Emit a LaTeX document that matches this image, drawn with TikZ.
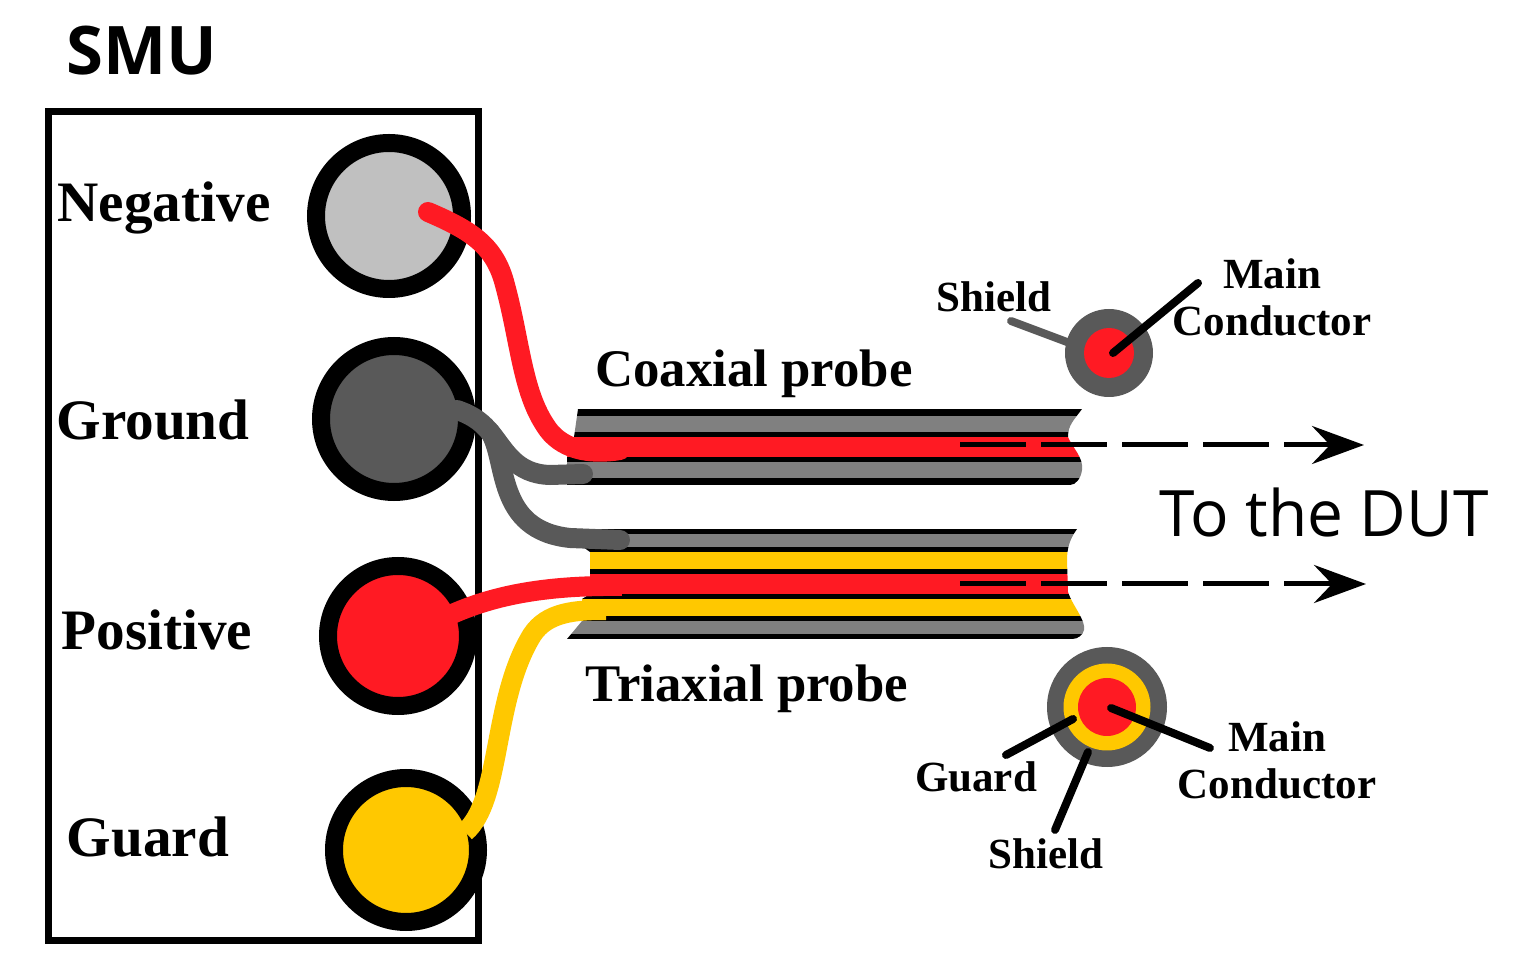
\documentclass[tikz,border=0pt]{standalone}
\usepackage{fontspec}
\usepackage{tikz}
\usetikzlibrary{arrows.meta, positioning}
\setmainfont{Liberation Serif}
\newfontfamily\labelsans{Open Sans}
\definecolor{wirered}{HTML}{FF1A23}
\definecolor{wiregray}{HTML}{595959}
\definecolor{wireyellow}{HTML}{FFC800}
\definecolor{stripegray}{HTML}{808080}
\definecolor{padgray}{HTML}{C0C0C0}
\tikzstyle{pad} = [circle, draw=black, line width=9pt, inner sep=0pt]
\tikzstyle{padlabel} = [font=\bfseries\fontsize{28.6}{30}\selectfont, inner sep=0pt]
\tikzstyle{probelabel} = [font=\bfseries\fontsize{26.4}{28}\selectfont, inner sep=0pt]
\tikzstyle{partlabel} = [font=\bfseries\fontsize{21.5}{23.5}\selectfont, inner sep=0pt, align=center]
\tikzstyle{disc} = [circle, inner sep=0pt]
\tikzstyle{wire} = [line width=10pt, line cap=round]
\tikzstyle{leader} = [line width=4pt, line cap=round]
\tikzstyle{dutarrow} = [line width=2.5pt, dash pattern=on 33pt off 7.5pt, -{Stealth[length=26pt, width=19pt, inset=9pt]}]

\begin{document}
\begin{tikzpicture}[x=0.5pt, y=-0.5pt]
  \useasboundingbox (0,0) rectangle (1517,978);

  % SMU box
  \node[draw=black, line width=3.5pt, minimum width=215pt, minimum height=414pt, inner sep=0pt] (smu) at (263.5,526) {};
  \node[inner sep=0pt, font=\labelsans\bfseries\fontsize{33.5}{35}\selectfont] (smutitle) at (142,51) {SMU};

  % Terminals
  \node[pad, fill=padgray, minimum size=73pt] (neg) at (389,216) {};
  \node[pad, fill=wiregray, minimum size=73pt] (gnd) at (394,419) {};
  \node[pad, fill=wirered, minimum size=70pt] (pos) at (398,636) {};
  \node[pad, fill=wireyellow, minimum size=72pt] (grd) at (406,850) {};

  \node[padlabel] (neglabel) at (164,208) {Negative};
  \node[padlabel] (gndlabel) at (153,420) {Ground};
  \node[padlabel] (poslabel) at (157,630) {Positive};
  \node[padlabel] (grdlabel) at (148,837) {Guard};

  % Coaxial probe
  \begin{scope}
    \clip (578,409) -- (1082,409) .. controls (1074,420) and (1068,425) .. (1068,437)
      .. controls (1072,447) and (1084,458) .. (1082,470) .. controls (1081,478) and (1076,485) .. (1070,485)
      -- (567,485) -- (567,457) -- (574,437) -- cycle;
    \foreach \ya/\yb/\col in {409/416/black, 416/432/stripegray, 432/437/black, 437/457/wirered,
                              457/462/black, 462/478/stripegray, 478/485/black}
      \fill[\col] (560,\ya) rectangle (1090,\yb);
  \end{scope}

  % Triaxial probe
  \begin{scope}
    \clip (583,529) -- (1077,529) .. controls (1069,540) and (1067,550) .. (1067,560) -- (1068,592)
      .. controls (1072,605) and (1086,620) .. (1084,630) .. controls (1083,635) and (1078,639) .. (1072,639)
      -- (567,639) -- (582,621) -- (582,599) -- (590,594) -- (590,552) -- (583,547) -- cycle;
    \foreach \ya/\yb/\col in {529/534/black, 534/547/stripegray, 547/552/black, 552/569/wireyellow,
                              569/574/black, 574/594/wirered, 594/599/black, 599/616/wireyellow,
                              616/621/black, 621/634/stripegray, 634/639/black}
      \fill[\col] (560,\ya) rectangle (1090,\yb);
  \end{scope}

  \node[probelabel] (coaxlabel) at (754,374) {Coaxial probe};
  \node[probelabel] (triaxlabel) at (747,689) {Triaxial probe};

  % Wire ends
  \coordinate (negtip) at (428,212);
  \coordinate (coaxred) at (620,450);
  \coordinate (gndtip) at (457,410);
  \coordinate (gndsplit) at (490,432);
  \coordinate (coaxgray) at (583,474);
  \coordinate (triaxgray) at (620,540);
  \coordinate (postip) at (450,615);
  \coordinate (triaxred) at (622,586);
  \coordinate (grdtip) at (465,832);
  \coordinate (triaxyellow) at (606,610);

  % Wires
  \draw[wire, wiregray] (gndtip) .. controls (475,416) and (483,424) .. (gndsplit)
    .. controls (505,450) and (515,474) .. (550,475) -- (coaxgray);
  \draw[wire, wiregray] (gndsplit) .. controls (508,460) and (495,530) .. (570,538) -- (triaxgray);
  \draw[wire, wirered, line cap=butt] (postip) .. controls (490,597) and (540,585) .. (triaxred);
  \draw[wire, wireyellow, line cap=butt] (grdtip) .. controls (502,800) and (492,700) .. (532,635)
    .. controls (547,612) and (575,610) .. (triaxyellow);
  \draw[wire, wirered] (negtip) .. controls (470,230) and (495,245) .. (505,285)
    .. controls (520,340) and (522,390) .. (545,425) .. controls (560,450) and (590,455) .. (coaxred);

  % To the DUT
  \coordinate (coaxstart) at (960,445);
  \coordinate (coaxend) at (1364,445);
  \coordinate (triaxstart) at (960,584);
  \coordinate (triaxend) at (1366,584);
  \draw[dutarrow] (coaxstart) -- (coaxend);
  \draw[dutarrow] (triaxstart) -- (triaxend);
  \node[inner sep=0pt, font=\labelsans\fontsize{32}{34}\selectfont] (dutlabel) at (1324,513) {To the DUT};

  % Coaxial section
  \node[disc, fill=wiregray, minimum size=44pt] (coaxouter) at (1109,353) {};
  \node[disc, fill=wirered, minimum size=25pt] (coaxcore) at (1109,353) {};
  \node[partlabel] (coaxshield) at (994,297) {Shield};
  \node[partlabel] (coaxmain) at (1272,297) {Main\\Conductor};
  \coordinate (coaxshieldend) at (1011,321);
  \coordinate (coaxshieldtip) at (1075,345);
  \coordinate (coaxmainend) at (1198,283);
  \coordinate (coaxmaintip) at (1113,353);
  \draw[leader, wiregray] (coaxshieldend) -- (coaxshieldtip);
  \draw[leader] (coaxmainend) -- (coaxmaintip);

  % Triaxial section
  \node[disc, fill=wiregray, minimum size=60pt] (triaxouter) at (1107,707) {};
  \node[disc, fill=wireyellow, minimum size=43.5pt] (triaxguard) at (1107,707) {};
  \node[disc, fill=wirered, minimum size=29pt] (triaxcore) at (1107,707) {};
  \node[partlabel] (triaxguardlabel) at (976,777) {Guard};
  \node[partlabel] (triaxshieldlabel) at (1046,854) {Shield};
  \node[partlabel] (triaxmain) at (1277,760) {Main\\Conductor};
  \coordinate (triaxmainend) at (1210,748);
  \coordinate (triaxmaintip) at (1111,708);
  \coordinate (triaxguardend) at (1006,755);
  \coordinate (triaxguardtip) at (1073,719);
  \coordinate (triaxshieldend) at (1055,830);
  \coordinate (triaxshieldtip) at (1088,752);
  \draw[leader] (triaxmainend) -- (triaxmaintip);
  \draw[leader] (triaxguardend) -- (triaxguardtip);
  \draw[leader] (triaxshieldend) -- (triaxshieldtip);
\end{tikzpicture}
\end{document}
